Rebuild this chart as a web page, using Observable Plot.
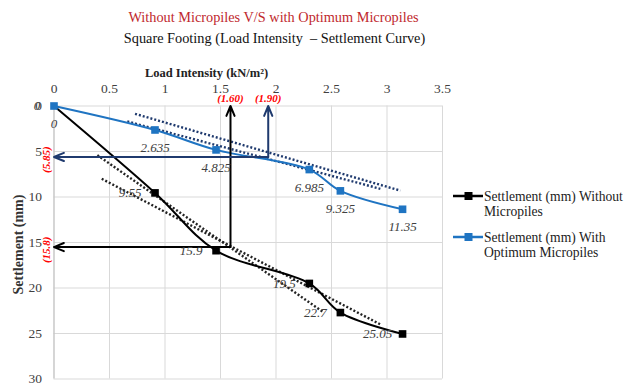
<!DOCTYPE html>
<html><head><meta charset="utf-8">
<script src="https://cdn.jsdelivr.net/npm/d3@7"></script>
<script src="https://cdn.jsdelivr.net/npm/@observablehq/plot@0.6"></script>
<style>body{margin:0;background:#fff;}</style>
</head><body><div id="chart"></div>
<script>
// ---- data ----
const load = [0, 0.91, 1.46, 2.30, 2.58, 3.14];
const settleWithout = [0, 9.55, 15.9, 19.5, 22.7, 25.05];
const settleWith = [0, 2.635, 4.825, 6.985, 9.325, 11.35];
const labelsWithout = ["", "9.55", "15.9", "19.5", "22.7", "25.05"];
const labelsWith = ["0", "2.635", "4.825", "6.985", "9.325", "11.35"];
const xTicks = [0, 0.5, 1, 1.5, 2, 2.5, 3, 3.5];
const yTicks = [0, 5, 10, 15, 20, 25, 30];
const seriesNames = ["Settlement (mm) Without", "Micropiles", "Settlement (mm) With", "Optimum Micropiles"];
const titleText = "Without Micropiles V/S with Optimum Micropiles";
const subtitleText = "Square Footing (Load Intensity  \u2013 Settlement Curve)";
const xTitle = "Load Intensity (kN/m\u00B2)";
const yTitle = "Settlement (mm)";
// dotted trendlines (endpoints)
const trendWithoutAx = [0.39, 2.42], trendWithoutAy = [5.4, 22.6];
const trendWithoutBx = [0.43, 2.94], trendWithoutBy = [8.0, 24.0];
const trendWithAx = [0.73, 3.12], trendWithAy = [0.86, 9.3];
const trendWithBx = [0.66, 2.94], trendWithBy = [1.7, 9.1];
// reading arrows
const readLoadLabels = ["(1.60)", "(1.90)"];
const readSettleLabels = ["(15.8)", "(5.85)"];
const arrowLoad = [1.59, 1.93];
const arrowSettle = [15.5, 5.6];

// ---- build ----
const W = 625, H = 383;
const mL = 53.5, mR = 183, mT = 105.5, mB = 4.5;
const pts = (xs, ys) => xs.map((x, i) => ({x, y: ys[i]}));
const blue = "#1f74c2", navy = "#1f3a6e", ink = "#404040";
const serif = "Liberation Serif, DejaVu Serif, serif";

const rowsWithout = load.map((x, i) => ({x, y: settleWithout[i], t: labelsWithout[i]}));
const rowsWith = load.map((x, i) => ({x, y: settleWith[i], t: labelsWith[i]}));
const arrows = [
  {x1: arrowLoad[0], y1: arrowSettle[0], x2: arrowLoad[0], y2: 0, c: "#000"},
  {x1: arrowLoad[0], y1: arrowSettle[0], x2: 0, y2: arrowSettle[0], c: "#000"},
  {x1: arrowLoad[1], y1: arrowSettle[1], x2: arrowLoad[1], y2: 0, c: navy},
  {x1: arrowLoad[1], y1: arrowSettle[1], x2: 0, y2: arrowSettle[1], c: navy}
];
const dotStyle = {strokeWidth: 2.4, strokeDasharray: "2,2", strokeLinecap: "butt"};

const chart = Plot.plot({
  width: W, height: H,
  marginLeft: mL, marginRight: mR, marginTop: mT, marginBottom: mB,
  style: {fontFamily: serif, background: "#fff", overflow: "visible"},
  x: {domain: [0, 3.5]},
  y: {domain: [0, 30], reverse: true},
  marks: [
    Plot.gridX(xTicks, {stroke: "#d9d9d9", strokeOpacity: 1, strokeWidth: 1}),
    Plot.gridY(yTicks, {stroke: "#d9d9d9", strokeOpacity: 1, strokeWidth: 1}),
    Plot.ruleX([0], {stroke: "#bfbfbf", strokeWidth: 1}),
    Plot.axisX(xTicks, {anchor: "top", tickSize: 0, tickPadding: 13, fontSize: 13.5, fill: ink, label: null, tickFormat: d => String(d)}),
    Plot.axisY(yTicks, {anchor: "left", tickSize: 0, tickPadding: 12, fontSize: 13.5, fill: ink, label: null}),
    // trendlines
    Plot.line(pts(trendWithoutAx, trendWithoutAy), {x: "x", y: "y", ...dotStyle, stroke: "#222"}),
    Plot.line(pts(trendWithoutBx, trendWithoutBy), {x: "x", y: "y", ...dotStyle, stroke: "#222"}),
    Plot.line(pts(trendWithAx, trendWithAy), {x: "x", y: "y", ...dotStyle, stroke: navy}),
    Plot.line(pts(trendWithBx, trendWithBy), {x: "x", y: "y", ...dotStyle, stroke: navy}),
    // series
    Plot.line(rowsWithout, {x: "x", y: "y", stroke: "#000", strokeWidth: 2, curve: "catmull-rom"}),
    Plot.line(rowsWith, {x: "x", y: "y", stroke: blue, strokeWidth: 2, curve: "catmull-rom"}),
    // arrows
    Plot.arrow(arrows, {x1: "x1", y1: "y1", x2: "x2", y2: "y2", stroke: "c", strokeWidth: 2, headLength: 8, headAngle: 45}),
    // markers
    Plot.dot(rowsWith, {x: "x", y: "y", symbol: "square", r: 4.3, fill: blue}),
    Plot.dot(rowsWithout.slice(1), {x: "x", y: "y", symbol: "square", r: 4.3, fill: "#000"}),
    // data labels
    Plot.text(rowsWith, {x: "x", y: "y", text: "t", dy: 18, fontSize: 13, fontStyle: "italic", fill: ink}),
    Plot.text(rowsWithout, {x: "x", y: "y", text: "t", dx: -25, fontSize: 13, fontStyle: "italic", fill: ink}),
    Plot.text(["0"], {x: 0, y: 0, dx: -17, fontSize: 13, fontStyle: "italic", fill: ink}),
    // read-off labels
    Plot.text(readLoadLabels, {x: (d, i) => arrowLoad[i], y: 0, dy: -8, fontSize: 11, fontWeight: "bold", fontStyle: "italic", fill: "#ff0000"}),
    Plot.text(readSettleLabels, {x: 0, y: (d, i) => arrowSettle[i] + 0.3, dx: -8, rotate: -90, fontSize: 11, fontWeight: "bold", fontStyle: "italic", fill: "#ff0000"}),
    // titles
    Plot.text([titleText], {frameAnchor: "top-left", dx: 273 - mL, dy: 17 - mT, lineAnchor: "middle", fontSize: 14.3, fill: "#c0282d", textAnchor: "middle"}),
    Plot.text([subtitleText], {frameAnchor: "top-left", dx: 274 - mL, dy: 38 - mT, lineAnchor: "middle", fontSize: 14.3, fill: "#111", textAnchor: "middle"}),
    Plot.text([xTitle], {frameAnchor: "top-left", dx: 206 - mL, dy: 72 - mT, lineAnchor: "middle", fontSize: 12.5, fontWeight: "bold", fill: "#222", textAnchor: "middle"}),
    Plot.text([yTitle], {frameAnchor: "top-left", dx: 18 - mL, dy: 244 - mT, lineAnchor: "middle", fontSize: 14, fontWeight: "bold", fill: "#333", rotate: -90, textAnchor: "middle"})
  ]
});
document.getElementById("chart").appendChild(chart);

// legend
const svg = d3.select(chart);
const leg = svg.append("g").attr("font-family", serif).attr("font-size", 13.6).attr("fill", "#222").attr("text-anchor", "start");
const entries = [{c: "#000", y: 196, t: [seriesNames[0], seriesNames[1]]}, {c: blue, y: 237, t: [seriesNames[2], seriesNames[3]]}];
entries.forEach(e => {
  leg.append("line").attr("x1", 453).attr("x2", 483).attr("y1", e.y).attr("y2", e.y).attr("stroke", e.c).attr("stroke-width", 2.5);
  leg.append("rect").attr("x", 464.5).attr("y", e.y - 4).attr("width", 8).attr("height", 8).attr("fill", e.c);
  e.t.forEach((s, k) => leg.append("text").attr("x", 484).attr("y", e.y + k * 15.5).attr("dy", "0.35em").text(s));
});
</script></body></html>
